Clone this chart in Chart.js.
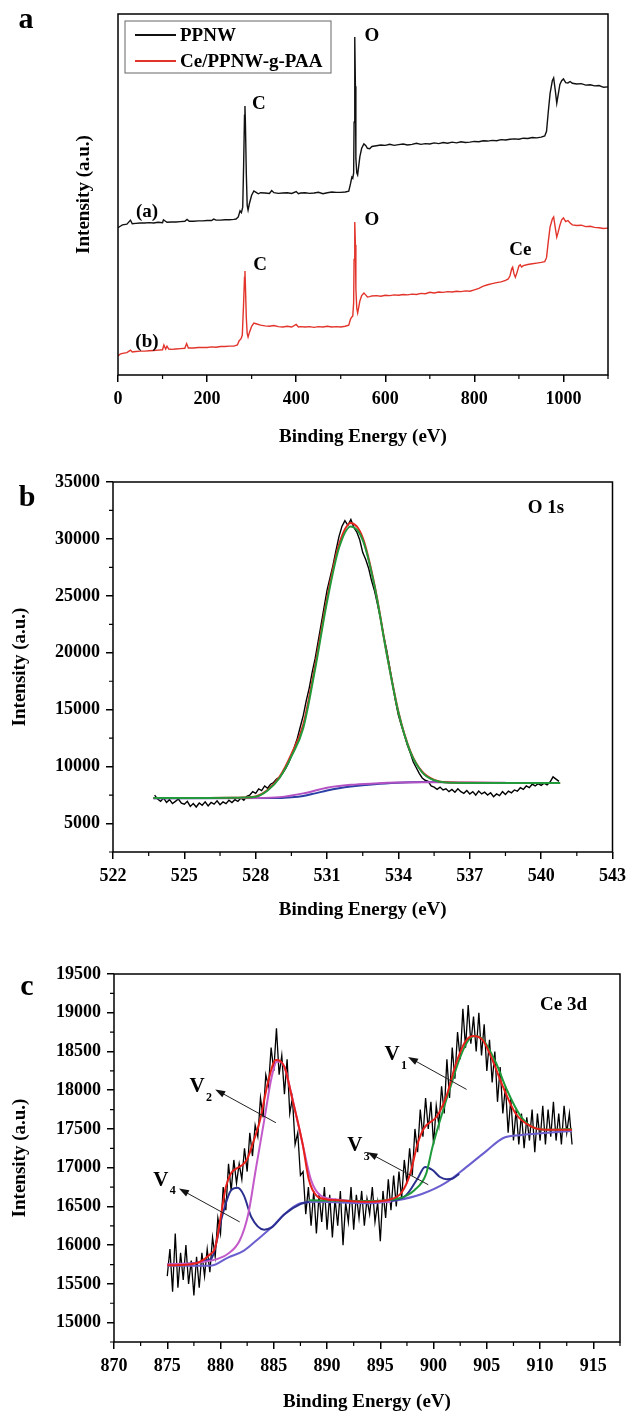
<!DOCTYPE html>
<html>
<head>
<meta charset="utf-8">
<script src="https://cdn.jsdelivr.net/npm/chart.js@4.4.0/dist/chart.umd.min.js"></script>
<style>
  html, body { margin: 0; padding: 0; background: #fff; }
  #wrap { position: relative; width: 633px; height: 1413px; overflow: hidden; }
  canvas { position: absolute; left: 0; }
</style>
</head>
<body>
<div id="wrap">
  <canvas id="chartA" width="633" height="460" style="top:0px"></canvas>
  <canvas id="chartB" width="633" height="470" style="top:460px"></canvas>
  <canvas id="chartC" width="633" height="483" style="top:930px"></canvas>
</div>
<script>
// ---------- panel a : survey spectra (a.u.) ----------
const surveyTicks = [0, 200, 400, 600, 800, 1000];

const ppnwE = [
  0,5,10,20,28,32,40,50,60,70,
  80,90,100,102,110,120,130,140,150,155,
  160,170,180,190,200,210,215,220,230,240,
  250,260,265,270,274,277,280,282,284,285,
  286,288,290,292,295,300,305,310,315,320,
  330,340,345,350,360,370,380,390,400,405,
  410,420,430,440,450,460,470,480,490,500,
  510,518,522,525,527,529,530,531,532,533,
  534,536,538,540,543,547,552,556,560,565,
  570,580,590,600,610,620,630,640,650,660,
  670,680,690,700,710,720,730,740,750,760,
  770,780,790,800,810,820,830,840,850,860,
  870,880,890,900,910,920,930,940,950,958,
  962,966,970,975,978,982,985,988,992,996,
  1000,1005,1010,1015,1020,1030,1040,1050,1060,1070,
  1080,1090,1100
];
const ppnwI = [
  40.8,41.2,41.6,41.8,42.9,41.9,42.0,42.1,42.1,42.2,
  42.1,42.3,42.2,43.0,42.3,42.4,42.4,42.5,42.6,43.1,
  42.6,42.6,42.7,42.7,42.8,42.8,43.2,42.9,42.9,43.0,
  43.0,43.1,43.2,43.8,45.5,45.0,46.5,58.0,72.0,74.5,
  70.0,56.0,47.0,45.7,47.5,49.8,51.0,50.6,50.2,50.5,
  50.4,50.3,51.1,50.5,50.3,50.4,50.5,50.3,50.8,50.2,
  50.4,50.5,50.3,50.4,50.6,50.2,50.5,50.7,50.6,50.6,
  50.7,50.9,53.0,54.8,54.5,56.0,70.0,90.0,93.6,80.0,
  60.0,56.0,55.4,57.5,60.5,62.8,64.0,63.6,62.8,62.7,
  63.3,63.5,63.7,63.6,63.9,63.6,63.8,64.0,63.7,63.9,
  64.2,63.9,64.1,64.0,64.3,64.1,64.4,64.2,64.5,64.3,
  64.6,64.4,64.5,64.7,64.6,64.9,64.8,65.0,64.9,65.2,
  65.1,65.3,65.4,65.3,65.6,65.5,65.8,65.7,65.9,66.2,
  67.5,73.0,78.0,81.5,82.3,78.5,75.3,77.5,80.5,81.5,
  82.0,81.0,80.9,81.3,80.8,80.6,80.7,80.3,80.4,80.1,
  80.2,79.7,79.8
];

const cePaaE = [
  0,5,10,20,28,32,40,50,60,70,
  80,90,100,103,107,110,114,120,130,140,
  150,154,158,170,180,190,200,210,220,230,
  240,250,260,268,272,276,279,282,284,285,
  286,288,290,292,295,300,305,310,320,330,
  340,350,360,370,380,390,400,405,410,420,
  430,440,450,460,470,480,490,500,510,518,
  522,525,527,529,530,531,532,533,534,536,
  538,540,543,547,552,556,560,565,570,580,
  590,600,610,620,630,640,650,660,670,680,
  690,700,710,720,730,740,750,760,770,780,
  790,800,810,820,830,840,850,860,870,876,
  880,884,886,889,892,896,900,903,906,910,
  920,930,940,950,958,962,966,970,975,978,
  982,985,988,992,996,1000,1005,1010,1015,1020,
  1030,1040,1050,1060,1070,1080,1090,1100
];
const cePaaI = [
  5.3,5.8,6.0,6.2,6.9,6.4,6.5,6.6,6.6,6.7,
  6.8,6.9,7.0,8.3,7.2,8.0,7.2,7.1,7.2,7.3,
  7.4,8.7,7.5,7.5,7.6,7.6,7.6,7.8,7.7,7.9,
  7.9,8.0,8.0,8.3,9.5,10.0,11.0,20.0,27.0,28.8,
  25.0,16.0,11.5,10.5,11.8,13.5,14.4,14.2,13.8,13.6,
  13.5,13.7,13.4,13.3,13.5,13.3,14.0,13.3,13.4,13.3,
  13.4,13.2,13.4,13.3,13.5,13.3,13.4,13.3,13.5,13.8,
  15.5,16.1,16.3,20.0,32.0,39.0,42.4,36.0,24.0,18.5,
  17.2,18.5,20.5,22.0,22.7,22.2,21.6,21.7,21.9,22.0,
  21.8,22.1,22.0,22.2,22.1,22.3,22.2,22.4,22.3,22.6,
  22.5,22.9,22.7,23.0,22.9,23.1,23.0,23.2,23.1,23.3,
  23.2,23.6,24.0,24.6,25.0,25.3,25.6,25.8,26.2,26.6,
  27.5,29.5,29.9,28.0,27.1,28.5,30.2,30.5,29.9,30.3,
  30.6,30.8,31.0,31.2,31.4,32.5,37.0,41.0,43.2,43.8,
  40.5,38.2,39.5,41.5,43.0,43.5,42.5,42.8,42.1,41.6,
  41.4,41.5,41.1,41.2,40.9,40.8,40.6,40.7
];

// ---------- panel b : O 1s ----------
const o1sTicksX = [522, 525, 528, 531, 534, 537, 540, 543];
const o1sTicksY = [5000, 10000, 15000, 20000, 25000, 30000, 35000];

const o1sE = [
  523.75,523.875,524,524.125,524.25,524.375,524.5,524.625,
  524.75,524.875,525,525.125,525.25,525.375,525.5,525.625,
  525.75,525.875,526,526.125,526.25,526.375,526.5,526.625,
  526.75,526.875,527,527.125,527.25,527.375,527.5,527.625,
  527.75,527.875,528,528.125,528.25,528.375,528.5,528.625,
  528.75,528.875,529,529.125,529.25,529.375,529.5,529.625,
  529.75,529.875,530,530.125,530.25,530.375,530.5,530.625,
  530.75,530.875,531,531.125,531.25,531.375,531.5,531.625,
  531.75,531.875,532,532.125,532.25,532.375,532.5,532.625,
  532.75,532.875,533,533.125,533.25,533.375,533.5,533.625,
  533.75,533.875,534,534.125,534.25,534.375,534.5,534.625,
  534.75,534.875,535,535.125,535.25,535.375,535.5,535.625,
  535.75,535.875,536,536.125,536.25,536.375,536.5,536.625,
  536.75,536.875,537,537.125,537.25,537.375,537.5,537.625,
  537.75,537.875,538,538.125,538.25,538.375,538.5,538.625,
  538.75,538.875,539,539.125,539.25,539.375,539.5,539.625,
  539.75,539.875,540,540.125,540.25,540.375,540.5,540.625,
  540.75
];
const o1sRaw = [
  7500,7150,6950,7250,6850,7100,6750,6950,
  7150,6800,6700,6950,6500,6750,6450,6800,
  6600,6900,6550,6850,6700,7000,6650,6900,
  6750,7050,6850,7100,6950,7250,7050,7400,
  7500,7800,7650,8050,7900,8300,8100,8450,
  8600,8900,9050,9400,9800,10300,10900,11700,
  12500,13500,14500,15800,16900,18300,19500,21000,
  22500,24000,25500,26600,27700,29000,30200,31100,
  31600,31200,31700,31000,30600,29900,28800,28200,
  27400,26300,25400,24200,23000,21500,20300,18800,
  17300,15800,14500,13600,12800,11900,11200,10400,
  9900,9400,9000,8800,8700,8300,8200,8000,
  8200,7950,8050,7800,8000,7750,8050,7800,
  7650,7900,7600,7800,7500,7850,7600,7750,
  7500,7700,7350,7600,7450,7800,7550,7850,
  7700,7950,7850,8150,8000,8300,8150,8450,
  8300,8500,8350,8550,8400,8650,9100,8900,
  8700
];
const o1sFitE = [523.7,525,526,527,527.5,528,528.5,529,529.5,530,530.5,531,531.5,532,532.5,533,533.5,534,534.5,535,535.5,536,537,538.5,540.8];
const o1sPeak = [7250,7250,7250,7260,7280,7350,7900,9000,10900,13400,18600,24500,29200,31100,29900,25800,20000,14750,11300,9500,8800,8600,8570,8560,8560];
const o1sSum  = [7250,7250,7250,7260,7290,7380,7950,9100,11100,13700,18900,24800,29500,31400,30100,25900,20050,14800,11350,9550,8830,8620,8580,8570,8570];
const o1sBg1E = [523.7,528,529,530,531,532,533,534,535,536,537,538.5];
const o1sBg1  = [7230,7250,7320,7650,8150,8400,8520,8600,8630,8620,8600,8580];
const o1sBg2E = [523.7,529,529.5,530,530.5,531,531.5,532,533,534,535,535.8];
const o1sBg2  = [7230,7240,7300,7420,7650,7900,8100,8250,8460,8580,8640,8650];

// ---------- panel c : Ce 3d ----------
const ce3dTicksX = [870, 875, 880, 885, 890, 895, 900, 905, 910, 915];
const ce3dTicksY = [15000, 15500, 16000, 16500, 17000, 17500, 18000, 18500, 19000, 19500];

const ce3dE = [
  875,875.25,875.5,875.75,876,876.25,876.5,876.75,
  877,877.25,877.5,877.75,878,878.25,878.5,878.75,
  879,879.25,879.5,879.75,880,880.25,880.5,880.75,
  881,881.25,881.5,881.75,882,882.25,882.5,882.75,
  883,883.25,883.5,883.75,884,884.25,884.5,884.75,
  885,885.25,885.5,885.75,886,886.25,886.5,886.75,
  887,887.25,887.5,887.75,888,888.25,888.5,888.75,
  889,889.25,889.5,889.75,890,890.25,890.5,890.75,
  891,891.25,891.5,891.75,892,892.25,892.5,892.75,
  893,893.25,893.5,893.75,894,894.25,894.5,894.75,
  895,895.25,895.5,895.75,896,896.25,896.5,896.75,
  897,897.25,897.5,897.75,898,898.25,898.5,898.75,
  899,899.25,899.5,899.75,900,900.25,900.5,900.75,
  901,901.25,901.5,901.75,902,902.25,902.5,902.75,
  903,903.25,903.5,903.75,904,904.25,904.5,904.75,
  905,905.25,905.5,905.75,906,906.25,906.5,906.75,
  907,907.25,907.5,907.75,908,908.25,908.5,908.75,
  909,909.25,909.5,909.75,910,910.25,910.5,910.75,
  911,911.25,911.5,911.75,912,912.25,912.5,912.75,
  913
];
const ce3dRaw = [
  15600,15950,15400,16150,15450,15900,15550,16000,
  15500,15800,15350,15850,15450,15900,15600,15950,
  15650,16100,15850,16350,16150,16750,16450,17050,
  16700,17100,16800,17050,16850,17250,16950,17450,
  17150,17550,17400,17900,17650,18200,18050,18550,
  18250,18800,18200,18450,17950,18400,17700,17900,
  17300,17450,16900,16950,16400,16750,16250,16700,
  16150,16650,16300,16750,16200,16650,16100,16600,
  16250,16700,16000,16550,16300,16750,16200,16650,
  16350,16700,16250,16600,16400,16750,16300,16550,
  16050,16700,16350,16850,16450,16900,16500,16950,
  16600,17100,16800,17250,16900,17500,17200,17750,
  17400,17900,17500,17850,17300,17800,17550,18050,
  17700,18400,17900,18550,18150,18750,18400,19050,
  18550,19100,18600,18950,18500,19000,18450,18850,
  18250,18650,18100,18500,17850,18300,17700,18050,
  17450,17900,17350,17750,17300,17700,17250,17650,
  17350,17750,17200,17700,17350,17800,17300,17750,
  17400,17850,17350,17700,17300,17800,17450,17700,
  17300
];
const ce3dSumE = [875,877,878,879,879.5,880,880.5,881,881.5,882,882.5,883,883.7,884.5,885.2,886,886.7,887.7,888.3,889,890,891,893.6,895.9,897,897.8,898.5,899.1,900.3,901.2,902,902.9,903.7,904.6,905.4,906.5,907.7,909.2,910.5,913];
const ce3dSum  = [15740,15750,15780,15880,15970,16350,16750,16930,16990,17030,17110,17300,17610,18130,18390,18300,17910,17310,16840,16640,16590,16580,16560,16590,16680,16920,17310,17510,17660,17920,18300,18610,18700,18650,18430,18050,17700,17530,17490,17490];
const v2E = [875,879.1,880.7,881.8,882.6,883.3,884.1,884.8,885.3,886,886.7,887.7,888.5,889.4,890.9,893.6,896];
const v2I = [15750,15800,15890,16060,16400,16970,17610,18170,18370,18300,17920,17310,16840,16640,16590,16560,16560];
const v4E = [875,879.1,880.2,881,881.6,882.2,882.9,884.1,884.8,886,887.5,888.3];
const v4I = [15750,15820,16400,16710,16740,16640,16360,16200,16230,16400,16530,16560];
const v3E = [896,897.4,898.5,899.2,899.9,900.6,901.2,901.8,902.4];
const v3I = [16570,16640,16860,17010,16970,16880,16850,16860,16920];
const v1E = [888.3,893.6,896.6,898.2,899.3,899.9,900.8,901.6,902.4,903.1,903.8,904.6,905.8,906.9,908.1,909.2,910.7,913];
const v1I = [16580,16570,16600,16710,16920,17270,17700,18050,18390,18610,18700,18660,18370,18000,17680,17530,17490,17500];
const ceBgE = [875,879.1,880.7,882.2,883.7,884.8,886,887.5,889,893.6,896.6,898.9,901.2,903.1,905,906.5,908.1,910.7,913];
const ceBgI = [15735,15735,15840,15930,16100,16230,16400,16540,16560,16540,16580,16660,16810,17010,17220,17380,17420,17450,17475];

[[ppnwE, ppnwI], [cePaaE, cePaaI], [o1sE, o1sRaw], [o1sFitE, o1sPeak], [o1sFitE, o1sSum],
 [o1sBg1E, o1sBg1], [o1sBg2E, o1sBg2], [ce3dE, ce3dRaw], [ce3dSumE, ce3dSum], [v2E, v2I],
 [v4E, v4I], [v3E, v3I], [v1E, v1I], [ceBgE, ceBgI]].forEach(([a, b], i) => {
  if (a.length !== b.length) throw new Error('length mismatch #' + i + ': ' + a.length + ' vs ' + b.length);
});

const SERIF = "'Liberation Serif', 'Times New Roman', serif";
const pts = (xs, ys) => xs.map((x, i) => ({ x, y: ys[i] }));

function trace(xs, ys, color, width, smooth, order) {
  return {
    data: pts(xs, ys), borderColor: color, borderWidth: width,
    pointRadius: 0, fill: false, tension: 0,
    cubicInterpolationMode: smooth ? 'monotone' : 'default',
    order: order
  };
}

// frame, minor ticks, labels, arrows, legend
const decoPlugin = {
  id: 'deco',
  afterDatasetsDraw(chart, args, o) {
    const { ctx, chartArea: ca } = chart;
    const sx = chart.scales.x, sy = chart.scales.y;
    ctx.save();
    ctx.strokeStyle = '#000';
    ctx.lineWidth = 1.5;
    ctx.strokeRect(ca.left, ca.top, ca.right - ca.left, ca.bottom - ca.top);

    const minor = (scale, horiz) => {
      const t = scale.ticks.map(k => k.value);
      if (t.length < 2) return;
      const step = t[1] - t[0];
      ctx.beginPath();
      for (let v = t[0] - step / 2; v <= scale.max + 1e-6; v += step) {
        if (v < scale.min - 1e-6) continue;
        const p = scale.getPixelForValue(v);
        if (horiz) { ctx.moveTo(p, ca.bottom); ctx.lineTo(p, ca.bottom + 4); }
        else { ctx.moveTo(ca.left, p); ctx.lineTo(ca.left - 4, p); }
      }
      ctx.stroke();
    };
    ctx.lineWidth = 1.2;
    minor(sx, true);
    if (o.minorY) minor(sy, false);

    ctx.fillStyle = '#000';
    ctx.textAlign = 'center';
    ctx.textBaseline = 'middle';
    (o.texts || []).forEach(t => {
      const px = sx.getPixelForValue(t.x), py = sy.getPixelForValue(t.y);
      ctx.font = 'bold ' + (t.size || 19) + 'px ' + SERIF;
      ctx.fillText(t.text, px, py);
      if (t.sub) {
        ctx.font = 'bold 12px ' + SERIF;
        ctx.fillText(t.sub, px + 12, py + 11);
      }
    });

    (o.arrows || []).forEach(a => {
      const x1 = sx.getPixelForValue(a.x1), y1 = sy.getPixelForValue(a.y1);
      const x2 = sx.getPixelForValue(a.x2), y2 = sy.getPixelForValue(a.y2);
      const ang = Math.atan2(y2 - y1, x2 - x1);
      ctx.strokeStyle = '#222';
      ctx.lineWidth = 1;
      ctx.beginPath();
      ctx.moveTo(x1, y1);
      ctx.lineTo(x2 - 6 * Math.cos(ang), y2 - 6 * Math.sin(ang));
      ctx.stroke();
      ctx.fillStyle = '#111';
      ctx.beginPath();
      ctx.moveTo(x2, y2);
      ctx.lineTo(x2 - 10 * Math.cos(ang) + 3.5 * Math.sin(ang), y2 - 10 * Math.sin(ang) - 3.5 * Math.cos(ang));
      ctx.lineTo(x2 - 10 * Math.cos(ang) - 3.5 * Math.sin(ang), y2 - 10 * Math.sin(ang) + 3.5 * Math.cos(ang));
      ctx.closePath();
      ctx.fill();
    });

    if (o.legend) {
      const L = o.legend;
      ctx.strokeStyle = '#666';
      ctx.lineWidth = 1;
      ctx.strokeRect(L.left, L.top, L.width, L.height);
      ctx.textAlign = 'left';
      ctx.font = 'bold 19px ' + SERIF;
      L.items.forEach(it => {
        ctx.strokeStyle = it.color;
        ctx.lineWidth = 2;
        ctx.beginPath();
        ctx.moveTo(L.left + 10, it.y);
        ctx.lineTo(L.left + 51, it.y);
        ctx.stroke();
        ctx.fillStyle = '#000';
        ctx.fillText(it.text, L.left + 55, it.y + 1);
      });
    }

    if (o.letter) {
      ctx.fillStyle = '#000';
      ctx.textAlign = 'center';
      ctx.font = 'bold 30px ' + SERIF;
      ctx.fillText(o.letter.text, o.letter.x, o.letter.y);
    }
    ctx.restore();
  }
};

const tickFont = { family: SERIF, size: 18, weight: 'bold' };
const titleFont = { family: SERIF, size: 19, weight: 'bold' };
const useTicks = list => (s => { s.ticks = list.map(v => ({ value: v })); });

function xAxis(min, max, tickList, h, titlePad) {
  return {
    type: 'linear', min: min, max: max,
    border: { display: false },
    grid: { display: true, drawOnChartArea: false, drawTicks: true, tickLength: 7, color: '#000', lineWidth: 1.5 },
    ticks: { autoSkip: false, maxRotation: 0, padding: 7,
             color: '#000', font: tickFont, callback: v => String(v) },
    afterBuildTicks: useTicks(tickList),
    title: { display: true, text: 'Binding Energy (eV)', color: '#000', font: titleFont,
             padding: { top: 0, bottom: titlePad } },
    afterFit: s => { s.height = h; }
  };
}
function yAxis(min, max, tickList, w, titlePad, showTicks) {
  return {
    type: 'linear', min: min, max: max,
    border: { display: false },
    grid: { display: showTicks, drawOnChartArea: false, drawTicks: true, tickLength: 7, color: '#000', lineWidth: 1.5 },
    ticks: { display: showTicks, autoSkip: false, padding: 6,
             color: '#000', font: tickFont, callback: v => String(v) },
    afterBuildTicks: useTicks(tickList),
    title: { display: true, text: 'Intensity (a.u.)', color: '#000', font: titleFont,
             padding: { top: titlePad, bottom: 0 } },
    afterFit: s => { s.width = w; }
  };
}

function makeChart(id, datasets, scales, pad, deco) {
  return new Chart(document.getElementById(id), {
    type: 'line',
    data: { datasets: datasets },
    options: {
      responsive: false, animation: false, devicePixelRatio: 1,
      layout: { padding: pad },
      plugins: { legend: { display: false }, tooltip: { enabled: false }, deco: deco },
      scales: scales
    },
    plugins: [decoPlugin]
  });
}

// panel a
makeChart('chartA', [
  trace(ppnwE, ppnwI, '#111111', 1.4, false, 1),
  trace(cePaaE, cePaaI, '#e2342b', 1.4, false, 2)
], {
  x: xAxis(0, 1100, surveyTicks, 85, 11.6),
  y: yAxis(0, 100, [], 118, 72.6, false)
}, { top: 14, right: 25, bottom: 0, left: 0 }, {
  minorY: false,
  letter: { text: 'a', x: 26, y: 20 },
  legend: { left: 125, top: 21, width: 206, height: 52,
            items: [{ text: 'PPNW', color: '#111111', y: 35 }, { text: 'Ce/PPNW-g-PAA', color: '#e2342b', y: 61 }] },
  texts: [
    { x: 316, y: 75, text: 'C' }, { x: 570, y: 93.9, text: 'O' }, { x: 65, y: 45.2, text: '(a)' },
    { x: 319, y: 30.5, text: 'C' }, { x: 570, y: 42.9, text: 'O' }, { x: 903, y: 34.6, text: 'Ce' },
    { x: 65, y: 9.1, text: '(b)' }
  ]
});

// panel b
makeChart('chartB', [
  trace(o1sFitE, o1sSum, '#e5261f', 2, true, 1),
  trace(o1sFitE, o1sPeak, '#22993a', 2, true, 0),
  trace(o1sBg1E, o1sBg1, '#b452c4', 2, true, 2),
  trace(o1sBg2E, o1sBg2, '#2c3fa6', 2, true, 3),
  trace(o1sE, o1sRaw, '#000000', 1.4, false, 10)
], {
  x: xAxis(522, 543, o1sTicksX, 78, 8.6),
  y: yAxis(2500, 35000, o1sTicksY, 113, 8.6, true)
}, { top: 22, right: 14, bottom: 0, left: 0 }, {
  minorY: true,
  letter: { text: 'b', x: 27, y: 38 },
  texts: [{ x: 540.2, y: 32700, text: 'O 1s' }]
});

// panel c
makeChart('chartC', [
  trace(ce3dSumE, ce3dSum, '#e8201c', 2, true, 0),
  trace(v1E, v1I, '#1e9a3a', 2, true, 1),
  trace(v2E, v2I, '#c35ac9', 2, true, 2),
  trace(v4E, v4I, '#2b2f8f', 2, true, 3),
  trace(v3E, v3I, '#2b2f8f', 2, true, 4),
  trace(ceBgE, ceBgI, '#6b5fcf', 2, true, 5),
  trace(ce3dE, ce3dRaw, '#000000', 1.3, false, 10)
], {
  x: xAxis(870, 917.5, ce3dTicksX, 71, 0),
  y: yAxis(14750, 19500, ce3dTicksY, 114, 8.6, true)
}, { top: 44, right: 13, bottom: 0, left: 0 }, {
  minorY: true,
  letter: { text: 'c', x: 27, y: 57 },
  texts: [
    { x: 912.2, y: 19100, text: 'Ce 3d' },
    { x: 896.1, y: 18455, text: 'V', sub: '1', size: 21 },
    { x: 877.8, y: 18045, text: 'V', sub: '2', size: 21 },
    { x: 892.6, y: 17280, text: 'V', sub: '3', size: 21 },
    { x: 874.4, y: 16840, text: 'V', sub: '4', size: 21 }
  ],
  arrows: [
    { x1: 903.1, y1: 18010, x2: 897.6, y2: 18430 },
    { x1: 885.2, y1: 17580, x2: 879.5, y2: 18010 },
    { x1: 899.5, y1: 16780, x2: 893.8, y2: 17200 },
    { x1: 881.8, y1: 16300, x2: 876.1, y2: 16730 }
  ]
});
</script>
</body>
</html>
